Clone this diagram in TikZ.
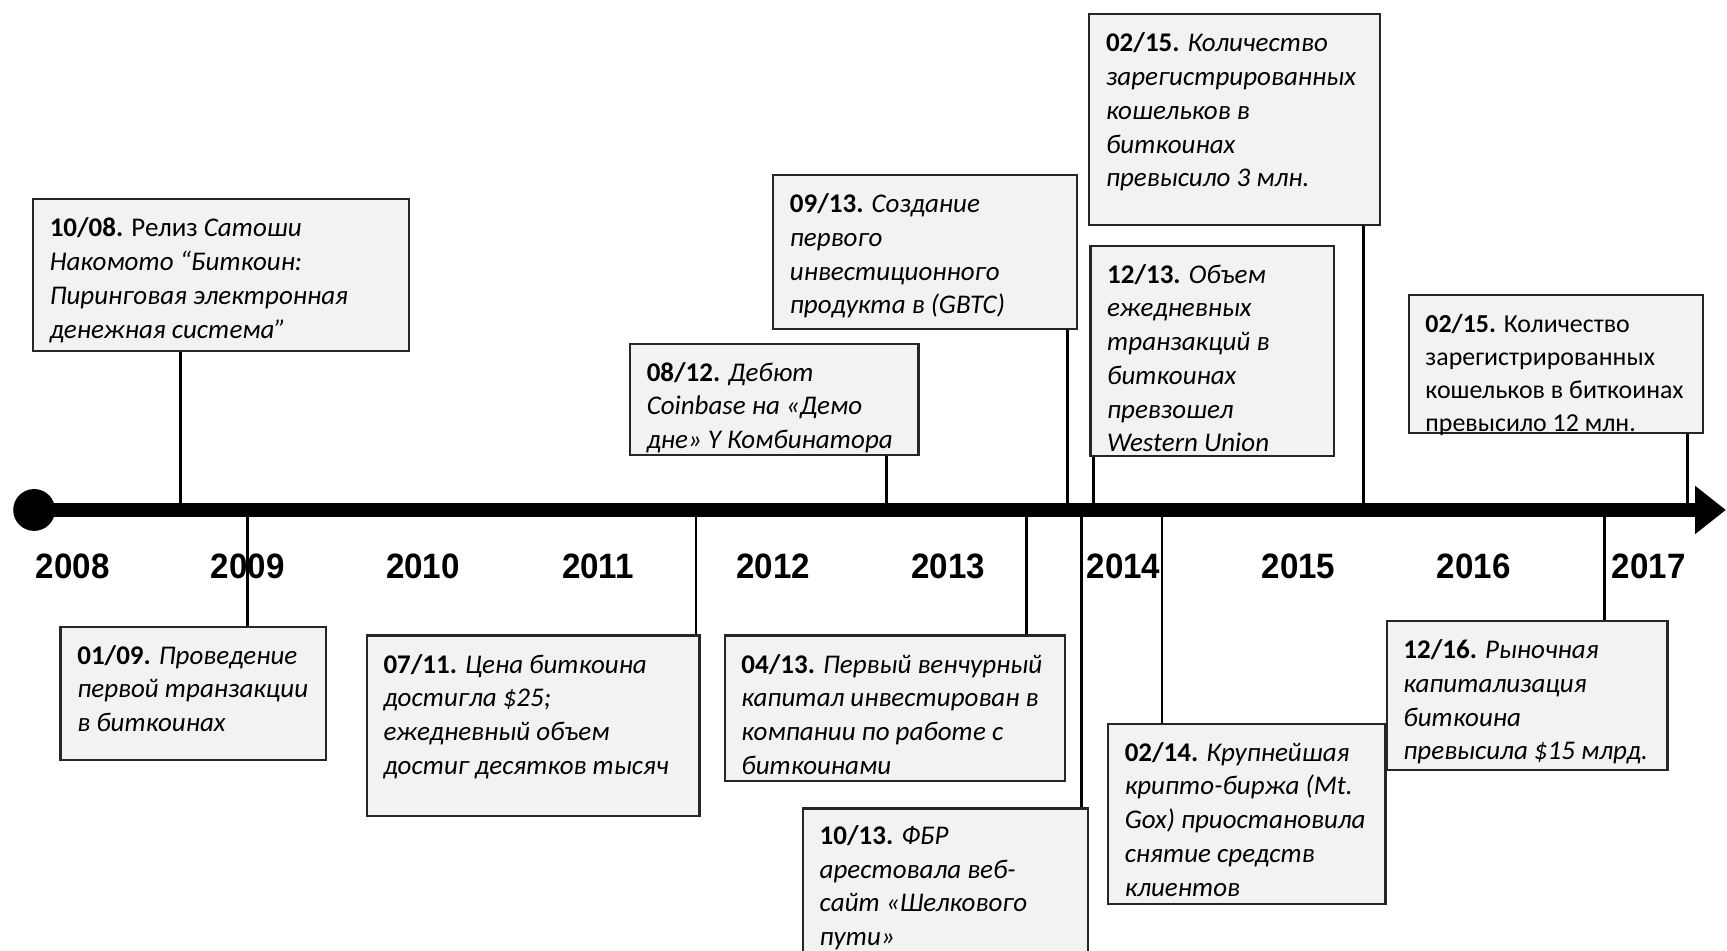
\documentclass[tikz,border=0pt]{standalone}
\usepackage{fontspec}
\setmainfont{Carlito}
\newfontfamily\yearfont[FakeStretch=0.94]{Liberation Sans}
\usetikzlibrary{arrows.meta, positioning}

\newcommand{\evdate}[1]{\strut\textbf{#1}}

\begin{document}
\begin{tikzpicture}[
      x=1pt, y=-1pt,
      evbox/.style={rectangle, draw=black!85, line width=2pt, fill=black!5, anchor=north west, inner sep=0pt},
      evtext/.style={anchor=north west, inner sep=0pt, align=left, font=\fontsize{24.5}{30.6}\selectfont},
      yearlbl/.style={font=\yearfont\bfseries\fontsize{32}{36}\selectfont},
      stem/.style={line width=2.5pt},
      timeline/.style={line width=12pt, -{Triangle[length=28pt, width=42pt]}}
    ]
    \useasboundingbox (0,0) rectangle (1568,863);

    % years
    \foreach \yr in {2008,...,2017}
      \node[yearlbl] (y\yr) at ({66+159*(\yr-2008)},514) {\yr};

    % points on the timeline
    \coordinate (p0810) at (164,463);
    \coordinate (p0109) at (225,463);
    \coordinate (p0711) at (632,463);
    \coordinate (p0812) at (805,463);
    \coordinate (p0413) at (932,463);
    \coordinate (p0913) at (969,463);
    \coordinate (p1013) at (982,463);
    \coordinate (p1213) at (993,463);
    \coordinate (p0214) at (1055,463);
    \coordinate (p0215a) at (1238,463);
    \coordinate (p1216) at (1457,463);
    \coordinate (p0215b) at (1532,463);

    % boxes above
    \node[evbox, minimum width=341pt, minimum height=138pt] (b0810) at (29,180) {};
    \node[evbox, minimum width=262pt, minimum height=101pt] (b0812) at (571,311) {};
    \node[evbox, minimum width=276pt, minimum height=140pt] (b0913) at (701,158) {};
    \node[evbox, minimum width=264pt, minimum height=191pt] (b0215a) at (988,12) {};
    \node[evbox, minimum width=221pt, minimum height=191pt] (b1213) at (989,222) {};
    \node[evbox, minimum width=267pt, minimum height=125pt] (b0215b) at (1278,267) {};

    % boxes below
    \node[evbox, minimum width=241pt, minimum height=121pt] (b0109) at (54,568) {};
    \node[evbox, minimum width=302pt, minimum height=164pt] (b0711) at (332,576) {};
    \node[evbox, minimum width=309pt, minimum height=132pt] (b0413) at (657,576) {};
    \node[evbox, minimum width=259pt, minimum height=170pt] (b1013) at (728,733) {};
    \node[evbox, minimum width=252pt, minimum height=164pt] (b0214) at (1005,656) {};
    \node[evbox, minimum width=255pt, minimum height=135pt] (b1216) at (1258,563) {};

    % texts
    \node[evtext] (t0810) at ([shift={(16,13.5)}]b0810.north west)
      {\evdate{10/08.} Релиз \textit{Сатоши}\\\textit{Накомото “Биткоин:}\\\textit{Пиринговая электронная}\\\textit{денежная система”}};
    \node[evtext] (t0812) at ([shift={(16,13.5)}]b0812.north west)
      {\evdate{08/12.} \textit{Дебют}\\\textit{Coinbase на «Демо}\\\textit{дне» Y Комбинатора}};
    \node[evtext] (t0913) at ([shift={(16,13.5)}]b0913.north west)
      {\evdate{09/13.} \textit{Создание}\\\textit{первого}\\\textit{инвестиционного}\\\textit{продукта в (GBTC)}};
    \node[evtext] (t0215a) at ([shift={(16,13.5)}]b0215a.north west)
      {\evdate{02/15.} \textit{Количество}\\\textit{зарегистрированных}\\\textit{кошельков в}\\\textit{биткоинах}\\\textit{превысило 3 млн.}};
    \node[evtext] (t1213) at ([shift={(16,13.5)}]b1213.north west)
      {\evdate{12/13.} \textit{Объем}\\\textit{ежедневных}\\\textit{транзакций в}\\\textit{биткоинах}\\\textit{превзошел}\\\textit{Western Union}};
    \node[evtext, font=\fontsize{23.5}{30}\selectfont] (t0215b) at ([shift={(16,13.5)}]b0215b.north west)
      {\evdate{02/15.} Количество\\зарегистрированных\\кошельков в биткоинах\\превысило 12 млн.};
    \node[evtext] (t0109) at ([shift={(16,13.5)}]b0109.north west)
      {\evdate{01/09.} \textit{Проведение}\\\textit{первой транзакции}\\\textit{в биткоинах}};
    \node[evtext] (t0711) at ([shift={(16,13.5)}]b0711.north west)
      {\evdate{07/11.} \textit{Цена биткоина}\\\textit{достигла \$25;}\\\textit{ежедневный объем}\\\textit{достиг десятков тысяч}};
    \node[evtext] (t0413) at ([shift={(16,13.5)}]b0413.north west)
      {\evdate{04/13.} \textit{Первый венчурный}\\\textit{капитал инвестирован в}\\\textit{компании по работе с}\\\textit{биткоинами}};
    \node[evtext] (t1013) at ([shift={(16,12)}]b1013.north west)
      {\evdate{10/13.} \textit{ФБР}\\\textit{арестовала веб-}\\\textit{сайт «Шелкового}\\\textit{пути»}};
    \node[evtext] (t0214) at ([shift={(16,13.5)}]b0214.north west)
      {\evdate{02/14.} \textit{Крупнейшая}\\\textit{крипто-биржа (Mt.}\\\textit{Gox) приостановила}\\\textit{снятие средств}\\\textit{клиентов}};
    \node[evtext] (t1216) at ([shift={(16,13.5)}]b1216.north west)
      {\evdate{12/16.} \textit{Рыночная}\\\textit{капитализация}\\\textit{биткоина}\\\textit{превысила \$15 млрд.}};

    % stems
    \draw[stem] (p0810) -- (p0810 |- b0810.south);
    \draw[stem] (p0812) -- (p0812 |- b0812.south);
    \draw[stem] (p0913) -- (p0913 |- b0913.south);
    \draw[stem] (p0215a) -- (p0215a |- b0215a.south);
    \draw[stem] (p1213) -- (p1213 |- b1213.south);
    \draw[stem] (p0215b) -- (p0215b |- b0215b.south);
    \draw[stem] (p0109) -- (p0109 |- b0109.north);
    \draw[stem] (p0711) -- (p0711 |- b0711.north);
    \draw[stem] (p0413) -- (p0413 |- b0413.north);
    \draw[stem] (p1013) -- (p1013 |- b1013.north);
    \draw[stem] (p0214) -- (p0214 |- b0214.north);
    \draw[stem] (p1216) -- (p1216 |- b1216.north);

    % timeline
    \node[circle, fill, inner sep=0pt, minimum size=38pt] (start) at (31,463) {};
    \coordinate (stop) at (1567,463);
    \draw[timeline] (start.center) -- (stop);

\end{tikzpicture}
\end{document}
